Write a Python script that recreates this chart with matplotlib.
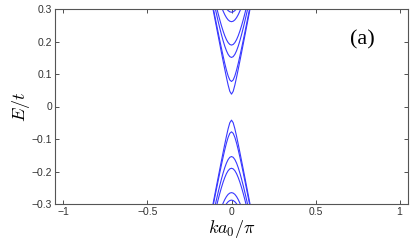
import matplotlib
matplotlib.use("Agg")
import matplotlib.pyplot as plt
import numpy as np

# half-branch wave numbers (k a0 / pi), curves are symmetric about k = 0
k_half = [0.0, 0.01, 0.02, 0.03, 0.04, 0.05, 0.06, 0.07, 0.08, 0.09, 0.10, 0.11, 0.12]

# upper (conduction-like) subbands, E/t at k_half points
up1 = [0.038, 0.0466, 0.066, 0.0895, 0.1145, 0.1402, 0.1664, 0.1928, 0.2193, 0.2460, 0.2727, 0.2994, 0.3262]
up2 = [0.077, 0.0816, 0.0940, 0.1118, 0.1326, 0.1554, 0.1794, 0.2041, 0.2293, 0.2549, 0.2808, 0.3068]
up3 = [0.151, 0.1534, 0.1604, 0.1714, 0.1856, 0.2025, 0.2215, 0.2419, 0.2635, 0.2861, 0.3094]
up4 = [0.189, 0.1909, 0.1966, 0.2056, 0.2177, 0.2323, 0.2489, 0.2673, 0.2870, 0.3078]
up5 = [0.261, 0.2624, 0.2665, 0.2733, 0.2825, 0.2938, 0.3072]
up6 = [0.290, 0.2913, 0.2950, 0.3011]

# lower (valence-like) subbands, E/t at k_half points
lo1 = [-0.042, -0.0499, -0.0684, -0.0912, -0.1159, -0.1414, -0.1674, -0.1936, -0.2200, -0.2466, -0.2732, -0.3000, -0.3267]
lo2 = [-0.078, -0.0825, -0.0949, -0.1125, -0.1332, -0.1559, -0.1798, -0.2045, -0.2297, -0.2552, -0.2810, -0.3071]
lo3 = [-0.154, -0.1563, -0.1632, -0.1740, -0.1881, -0.2048, -0.2235, -0.2438, -0.2653, -0.2877, -0.3108]
lo4 = [-0.190, -0.1919, -0.1975, -0.2065, -0.2186, -0.2331, -0.2497, -0.2680, -0.2877, -0.3085]
lo5 = [-0.265, -0.2664, -0.2704, -0.2771, -0.2862, -0.2974, -0.3106]
lo6 = [-0.288, -0.2893, -0.2930, -0.2992, -0.3076]

xticks = [-1, -0.5, 0, 0.5, 1]
xtick_labels = ["\u22121", "\u22120.5", "0", "0.5", "1"]
yticks = [-0.3, -0.2, -0.1, 0, 0.1, 0.2, 0.3]
ytick_labels = ["\u22120.3", "\u22120.2", "\u22120.1", "0", "0.1", "0.2", "0.3"]

plt.rcParams['mathtext.fontset'] = 'cm'

W, H = 416, 242
fig = plt.figure(figsize=(W / 100, H / 100), dpi=100)
ax = fig.add_axes([55 / W, 1 - 204 / H, (408 - 55) / W, (204 - 9) / H])

line_color = (0.22, 0.22, 1.0)
for e in [up1, up2, up3, up4, up5, up6, lo1, lo2, lo3, lo4, lo5, lo6]:
    n = len(e)
    kh = np.array(k_half[:n])
    eh = np.array(e)
    k = np.concatenate([-kh[::-1], kh[1:]])
    en = np.concatenate([eh[::-1], eh[1:]])
    ax.plot(k, en, color=line_color, lw=0.8)

ax.set_xlim(-1.05, 1.05)
ax.set_ylim(-0.3, 0.3)
ax.set_xticks(xticks)
ax.set_xticklabels(xtick_labels, fontfamily='Liberation Sans', fontsize=7.5)
ax.set_yticks(yticks)
ax.set_yticklabels(ytick_labels, fontfamily='Liberation Sans', fontsize=7.5)
ax.tick_params(direction='in', length=3, width=0.6, top=True, right=True,
               colors='#333333', pad=2)
for s in ax.spines.values():
    s.set_linewidth(0.8)
    s.set_color('#555555')

ax.set_xlabel(r'$ka_0/\pi$', fontsize=13, labelpad=1)
ax.set_ylabel(r'$E/t$', fontsize=13, labelpad=0)
ax.text(0.87, 0.84, '(a)', transform=ax.transAxes, ha='center', va='center',
        fontfamily='Liberation Serif', fontsize=16)

fig.savefig('out.png', dpi=100)
